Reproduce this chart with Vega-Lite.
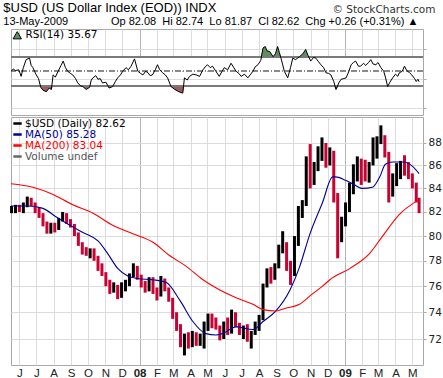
{
"$schema": "https://vega.github.io/schema/vega-lite/v6.json",
"padding": {"left": 3, "top": 1, "right": 3, "bottom": 0},
"background": "white",
"config": {"view": {"stroke": "#a8a8a8"}, "font": "DejaVu Sans"},
"title": {"text": "$USD (US Dollar Index (EOD)) INDX", "subtitle": "13-May-2009\u00a0\u00a0\u00a0\u00a0\u00a0\u00a0\u00a0\u00a0\u00a0\u00a0\u00a0\u00a0\u00a0\u00a0Op 82.08\u00a0 Hi 82.74\u00a0 Lo 81.87\u00a0 Cl 82.62\u00a0 Chg +0.26 (+0.31%) \u25b2", "anchor": "start", "offset": -23, "dx": -5, "font": "Liberation Sans", "fontSize": 13, "fontWeight": "normal", "color": "#000", "subtitleFont": "Liberation Sans", "subtitleFontSize": 11, "subtitleColor": "#000", "subtitlePadding": 1},
"spacing": 0,
"resolve": {"scale": {"color": "independent", "x": "independent", "y": "independent"}, "legend": {"color": "independent"}},
"datasets": {
"rsi": [
{"date":"2007-05-17","rsi":50},{"date":"2007-05-21","rsi":53},{"date":"2007-05-25","rsi":51},{"date":"2007-05-31","rsi":52},{"date":"2007-06-04","rsi":43},{"date":"2007-06-08","rsi":55},{"date":"2007-06-13","rsi":66},{"date":"2007-06-19","rsi":68},{"date":"2007-06-22","rsi":58},{"date":"2007-06-25","rsi":55},{"date":"2007-07-01","rsi":45},{"date":"2007-07-05","rsi":40},{"date":"2007-07-09","rsi":28},{"date":"2007-07-13","rsi":24},{"date":"2007-07-19","rsi":22},{"date":"2007-07-24","rsi":27},{"date":"2007-07-28","rsi":25},{"date":"2007-07-31","rsi":45},{"date":"2007-08-04","rsi":42},{"date":"2007-08-09","rsi":50},{"date":"2007-08-14","rsi":58},{"date":"2007-08-18","rsi":64},{"date":"2007-08-22","rsi":55},{"date":"2007-08-26","rsi":50},{"date":"2007-08-31","rsi":47},{"date":"2007-09-04","rsi":45},{"date":"2007-09-09","rsi":40},{"date":"2007-09-13","rsi":34},{"date":"2007-09-18","rsi":30},{"date":"2007-09-22","rsi":29},{"date":"2007-09-28","rsi":25},{"date":"2007-10-04","rsi":28},{"date":"2007-10-07","rsi":38},{"date":"2007-10-10","rsi":41},{"date":"2007-10-15","rsi":44},{"date":"2007-10-19","rsi":39},{"date":"2007-10-23","rsi":40},{"date":"2007-10-27","rsi":34},{"date":"2007-11-02","rsi":35},{"date":"2007-11-08","rsi":27},{"date":"2007-11-14","rsi":29},{"date":"2007-11-19","rsi":36},{"date":"2007-11-23","rsi":41},{"date":"2007-11-28","rsi":45},{"date":"2007-12-02","rsi":50},{"date":"2007-12-08","rsi":55},{"date":"2007-12-12","rsi":52},{"date":"2007-12-17","rsi":57},{"date":"2007-12-23","rsi":67},{"date":"2007-12-29","rsi":50},
{"date":"2008-01-03","rsi":47},{"date":"2008-01-07","rsi":45},{"date":"2008-01-12","rsi":50},{"date":"2008-01-16","rsi":48},{"date":"2008-01-20","rsi":44},{"date":"2008-01-24","rsi":45},{"date":"2008-01-29","rsi":52},{"date":"2008-02-02","rsi":59},{"date":"2008-02-06","rsi":52},{"date":"2008-02-11","rsi":48},{"date":"2008-02-16","rsi":45},{"date":"2008-02-20","rsi":41},{"date":"2008-02-26","rsi":29},{"date":"2008-03-04","rsi":25},{"date":"2008-03-11","rsi":22},{"date":"2008-03-18","rsi":20},{"date":"2008-03-21","rsi":41},{"date":"2008-03-26","rsi":38},{"date":"2008-03-30","rsi":43},{"date":"2008-04-05","rsi":46},{"date":"2008-04-11","rsi":45},{"date":"2008-04-17","rsi":43},{"date":"2008-04-23","rsi":52},{"date":"2008-04-27","rsi":56},{"date":"2008-05-01","rsi":59},{"date":"2008-05-06","rsi":55},{"date":"2008-05-10","rsi":57},{"date":"2008-05-16","rsi":50},{"date":"2008-05-22","rsi":43},{"date":"2008-05-27","rsi":50},{"date":"2008-05-31","rsi":55},{"date":"2008-06-06","rsi":52},{"date":"2008-06-12","rsi":61},{"date":"2008-06-17","rsi":55},{"date":"2008-06-21","rsi":50},{"date":"2008-06-26","rsi":47},{"date":"2008-06-30","rsi":43},{"date":"2008-07-06","rsi":46},{"date":"2008-07-12","rsi":41},{"date":"2008-07-16","rsi":45},{"date":"2008-07-21","rsi":50},{"date":"2008-07-25","rsi":56},{"date":"2008-07-30","rsi":59},{"date":"2008-08-04","rsi":65},{"date":"2008-08-08","rsi":82},{"date":"2008-08-12","rsi":84},{"date":"2008-08-15","rsi":78},{"date":"2008-08-20","rsi":77},{"date":"2008-08-26","rsi":70},{"date":"2008-08-30","rsi":74},{"date":"2008-09-03","rsi":84},{"date":"2008-09-06","rsi":76},{"date":"2008-09-09","rsi":68},{"date":"2008-09-15","rsi":50},{"date":"2008-09-21","rsi":41},{"date":"2008-09-26","rsi":55},{"date":"2008-09-30","rsi":68},{"date":"2008-10-05","rsi":66},{"date":"2008-10-12","rsi":70},{"date":"2008-10-18","rsi":74},{"date":"2008-10-23","rsi":80},{"date":"2008-10-27","rsi":72},{"date":"2008-11-01","rsi":64},{"date":"2008-11-06","rsi":69},{"date":"2008-11-10","rsi":68},{"date":"2008-11-15","rsi":63},{"date":"2008-11-19","rsi":59},{"date":"2008-11-24","rsi":55},{"date":"2008-11-28","rsi":48},{"date":"2008-12-03","rsi":47},{"date":"2008-12-07","rsi":45},{"date":"2008-12-12","rsi":36},{"date":"2008-12-16","rsi":25},{"date":"2008-12-21","rsi":34},{"date":"2008-12-25","rsi":39},{"date":"2008-12-30","rsi":40},
{"date":"2009-01-03","rsi":41},{"date":"2009-01-08","rsi":50},{"date":"2009-01-12","rsi":59},{"date":"2009-01-16","rsi":62},{"date":"2009-01-20","rsi":64},{"date":"2009-01-25","rsi":57},{"date":"2009-01-29","rsi":57},{"date":"2009-02-03","rsi":61},{"date":"2009-02-07","rsi":58},{"date":"2009-02-12","rsi":62},{"date":"2009-02-16","rsi":66},{"date":"2009-02-20","rsi":60},{"date":"2009-02-25","rsi":59},{"date":"2009-03-01","rsi":62},{"date":"2009-03-06","rsi":55},{"date":"2009-03-11","rsi":50},{"date":"2009-03-14","rsi":42},{"date":"2009-03-18","rsi":29},{"date":"2009-03-22","rsi":35},{"date":"2009-03-27","rsi":41},{"date":"2009-04-01","rsi":46},{"date":"2009-04-05","rsi":43},{"date":"2009-04-08","rsi":48},{"date":"2009-04-13","rsi":50},{"date":"2009-04-17","rsi":57},{"date":"2009-04-21","rsi":51},{"date":"2009-04-26","rsi":48},{"date":"2009-04-30","rsi":45},{"date":"2009-05-05","rsi":40},{"date":"2009-05-08","rsi":36},{"date":"2009-05-11","rsi":39},{"date":"2009-05-13","rsi":35.67}
],
"ohlc": [
{"date":"2007-05-18","open":82.3,"high":82.5,"low":81.9,"close":82.3},
{"date":"2007-05-25","open":82.2,"high":82.6,"low":81.9,"close":82.3},
{"date":"2007-06-01","open":82.3,"high":82.6,"low":82.0,"close":82.2},
{"date":"2007-06-08","open":82.2,"high":82.8,"low":81.9,"close":82.6},
{"date":"2007-06-15","open":82.6,"high":83.3,"low":82.4,"close":83.1},
{"date":"2007-06-22","open":83.1,"high":83.2,"low":82.5,"close":82.6},
{"date":"2007-06-29","open":82.6,"high":82.8,"low":81.9,"close":82.0},
{"date":"2007-07-06","open":82.0,"high":82.4,"low":81.5,"close":81.7},
{"date":"2007-07-13","open":81.7,"high":81.9,"low":80.8,"close":81.0},
{"date":"2007-07-20","open":81.0,"high":81.2,"low":80.2,"close":80.5},
{"date":"2007-07-27","open":80.5,"high":81.1,"low":80.2,"close":80.9},
{"date":"2007-08-03","open":80.9,"high":81.1,"low":80.3,"close":80.6},
{"date":"2007-08-10","open":80.6,"high":81.5,"low":80.5,"close":81.3},
{"date":"2007-08-17","open":81.3,"high":82.0,"low":81.2,"close":81.8},
{"date":"2007-08-24","open":81.8,"high":81.9,"low":81.0,"close":81.2},
{"date":"2007-08-31","open":81.2,"high":81.4,"low":80.7,"close":80.9},
{"date":"2007-09-07","open":80.9,"high":81.0,"low":80.0,"close":80.2},
{"date":"2007-09-14","open":80.2,"high":80.3,"low":79.2,"close":79.4},
{"date":"2007-09-21","open":79.4,"high":79.5,"low":78.5,"close":78.7},
{"date":"2007-09-28","open":78.7,"high":79.1,"low":78.4,"close":78.6},
{"date":"2007-10-05","open":78.5,"high":79.0,"low":78.2,"close":78.7},
{"date":"2007-10-12","open":78.7,"high":79.0,"low":78.0,"close":78.3},
{"date":"2007-10-19","open":78.3,"high":78.4,"low":77.2,"close":77.5},
{"date":"2007-10-26","open":77.5,"high":77.8,"low":76.8,"close":77.0},
{"date":"2007-11-02","open":77.0,"high":77.1,"low":76.0,"close":76.2},
{"date":"2007-11-09","open":76.2,"high":76.5,"low":75.4,"close":75.6},
{"date":"2007-11-16","open":75.6,"high":76.3,"low":75.5,"close":76.0},
{"date":"2007-11-23","open":76.0,"high":76.1,"low":75.0,"close":75.2},
{"date":"2007-11-30","open":75.2,"high":76.3,"low":75.1,"close":76.1},
{"date":"2007-12-07","open":76.1,"high":76.5,"low":75.6,"close":76.2},
{"date":"2007-12-14","open":76.2,"high":77.0,"low":76.0,"close":76.9},
{"date":"2007-12-21","open":76.9,"high":77.8,"low":76.7,"close":77.5},
{"date":"2007-12-28","open":77.5,"high":77.6,"low":76.5,"close":76.7},
{"date":"2008-01-04","open":76.7,"high":76.9,"low":75.9,"close":76.1},
{"date":"2008-01-11","open":76.1,"high":76.4,"low":75.5,"close":75.8},
{"date":"2008-01-18","open":75.8,"high":76.7,"low":75.6,"close":76.4},
{"date":"2008-01-25","open":76.4,"high":76.7,"low":75.4,"close":75.6},
{"date":"2008-02-01","open":75.6,"high":75.9,"low":74.9,"close":75.3},
{"date":"2008-02-08","open":75.3,"high":76.8,"low":75.2,"close":76.4},
{"date":"2008-02-15","open":76.4,"high":76.6,"low":75.6,"close":75.8},
{"date":"2008-02-22","open":75.8,"high":75.9,"low":74.8,"close":75.0},
{"date":"2008-02-29","open":75.0,"high":75.1,"low":73.5,"close":73.7},
{"date":"2008-03-07","open":73.7,"high":74.0,"low":72.6,"close":72.9},
{"date":"2008-03-14","open":72.9,"high":73.1,"low":71.4,"close":71.6},
{"date":"2008-03-21","open":71.6,"high":72.4,"low":70.8,"close":72.1},
{"date":"2008-03-28","open":72.1,"high":72.5,"low":71.3,"close":71.6},
{"date":"2008-04-04","open":71.6,"high":72.6,"low":71.4,"close":72.4},
{"date":"2008-04-11","open":72.4,"high":72.5,"low":71.5,"close":71.7},
{"date":"2008-04-18","open":71.7,"high":72.4,"low":71.5,"close":72.2},
{"date":"2008-04-25","open":72.2,"high":73.3,"low":71.3,"close":73.1},
{"date":"2008-05-02","open":73.1,"high":73.9,"low":72.6,"close":73.7},
{"date":"2008-05-09","open":73.7,"high":73.9,"low":72.8,"close":73.2},
{"date":"2008-05-16","open":73.2,"high":73.6,"low":72.7,"close":72.8},
{"date":"2008-05-23","open":72.8,"high":73.0,"low":71.9,"close":72.2},
{"date":"2008-05-30","open":72.2,"high":73.3,"low":72.0,"close":73.1},
{"date":"2008-06-06","open":73.1,"high":73.6,"low":72.3,"close":72.5},
{"date":"2008-06-13","open":72.5,"high":74.2,"low":72.4,"close":73.9},
{"date":"2008-06-20","open":73.9,"high":74.0,"low":72.9,"close":73.0},
{"date":"2008-06-27","open":73.0,"high":73.2,"low":72.3,"close":72.5},
{"date":"2008-07-04","open":72.5,"high":73.0,"low":72.0,"close":72.6},
{"date":"2008-07-11","open":72.6,"high":73.1,"low":71.8,"close":72.0},
{"date":"2008-07-18","open":72.0,"high":72.6,"low":71.3,"close":72.4},
{"date":"2008-07-25","open":72.4,"high":73.3,"low":72.3,"close":73.1},
{"date":"2008-08-01","open":72.9,"high":73.8,"low":72.6,"close":73.6},
{"date":"2008-08-08","open":73.6,"high":76.2,"low":73.4,"close":76.0},
{"date":"2008-08-15","open":76.0,"high":77.4,"low":75.9,"close":77.2},
{"date":"2008-08-22","open":77.2,"high":77.5,"low":76.2,"close":76.6},
{"date":"2008-08-29","open":76.6,"high":77.8,"low":76.5,"close":77.6},
{"date":"2008-09-05","open":77.6,"high":79.3,"low":77.4,"close":78.9},
{"date":"2008-09-12","open":78.9,"high":80.4,"low":78.6,"close":79.3},
{"date":"2008-09-19","open":79.3,"high":79.5,"low":77.2,"close":77.6},
{"date":"2008-09-26","open":77.6,"high":78.0,"low":76.1,"close":76.9},
{"date":"2008-10-03","open":76.9,"high":80.0,"low":76.8,"close":79.8},
{"date":"2008-10-10","open":79.8,"high":82.5,"low":79.2,"close":82.1},
{"date":"2008-10-17","open":82.1,"high":83.0,"low":81.5,"close":82.7},
{"date":"2008-10-24","open":82.7,"high":86.8,"low":82.5,"close":86.3},
{"date":"2008-10-31","open":86.3,"high":87.9,"low":84.0,"close":84.6},
{"date":"2008-11-07","open":84.6,"high":86.3,"low":84.3,"close":85.9},
{"date":"2008-11-14","open":85.9,"high":87.7,"low":85.5,"close":87.0},
{"date":"2008-11-21","open":87.0,"high":88.5,"low":86.4,"close":87.9},
{"date":"2008-11-28","open":87.9,"high":88.0,"low":85.8,"close":86.5},
{"date":"2008-12-05","open":86.5,"high":87.6,"low":86.0,"close":87.2},
{"date":"2008-12-12","open":87.2,"high":87.3,"low":82.8,"close":83.3},
{"date":"2008-12-19","open":83.3,"high":83.6,"low":78.2,"close":80.2},
{"date":"2008-12-26","open":80.2,"high":81.6,"low":79.5,"close":81.0},
{"date":"2009-01-02","open":81.0,"high":82.8,"low":80.8,"close":82.5},
{"date":"2009-01-09","open":82.5,"high":84.5,"low":82.0,"close":83.9},
{"date":"2009-01-16","open":83.9,"high":86.1,"low":83.5,"close":85.3},
{"date":"2009-01-23","open":85.3,"high":86.8,"low":84.6,"close":86.0},
{"date":"2009-01-30","open":86.0,"high":86.6,"low":84.3,"close":85.9},
{"date":"2009-02-06","open":85.9,"high":86.5,"low":84.6,"close":85.0},
{"date":"2009-02-13","open":85.0,"high":86.3,"low":84.5,"close":86.1},
{"date":"2009-02-20","open":86.1,"high":88.5,"low":86.0,"close":87.9},
{"date":"2009-02-27","open":87.9,"high":88.6,"low":86.6,"close":88.2},
{"date":"2009-03-06","open":88.2,"high":89.6,"low":87.9,"close":88.6},
{"date":"2009-03-13","open":88.6,"high":88.7,"low":86.7,"close":87.0},
{"date":"2009-03-20","open":87.0,"high":87.2,"low":82.8,"close":83.8},
{"date":"2009-03-27","open":83.8,"high":85.3,"low":83.3,"close":84.7},
{"date":"2009-04-03","open":84.7,"high":86.2,"low":84.2,"close":85.1},
{"date":"2009-04-10","open":85.1,"high":86.4,"low":84.8,"close":85.8},
{"date":"2009-04-17","open":85.8,"high":86.9,"low":85.1,"close":85.6},
{"date":"2009-04-24","open":85.6,"high":86.3,"low":84.8,"close":85.0},
{"date":"2009-05-01","open":85.0,"high":85.3,"low":84.0,"close":84.3},
{"date":"2009-05-08","open":84.3,"high":84.5,"low":82.8,"close":83.1},
{"date":"2009-05-13","open":83.1,"high":83.2,"low":81.9,"close":82.6}
],
"ma50": [
{"date":"2007-05-17","value":82.5},{"date":"2007-06-16","value":82.5},{"date":"2007-07-13","value":82.3},{"date":"2007-08-05","value":81.6},{"date":"2007-08-26","value":81.0},{"date":"2007-09-22","value":80.3},{"date":"2007-10-19","value":79.6},{"date":"2007-11-05","value":78.6},{"date":"2007-11-23","value":77.4},{"date":"2007-12-11","value":76.8},{"date":"2007-12-29","value":76.6},{"date":"2008-01-25","value":76.5},{"date":"2008-02-17","value":76.3},{"date":"2008-03-13","value":74.9},{"date":"2008-04-05","value":73.3},{"date":"2008-04-28","value":72.4},{"date":"2008-05-16","value":72.3},{"date":"2008-05-28","value":72.4},{"date":"2008-06-21","value":72.9},{"date":"2008-07-21","value":72.7},{"date":"2008-08-08","value":73.3},{"date":"2008-08-31","value":74.1},{"date":"2008-09-25","value":75.7},{"date":"2008-10-12","value":77.5},{"date":"2008-10-30","value":80.1},{"date":"2008-11-22","value":82.8},{"date":"2008-12-10","value":85.0},{"date":"2008-12-15","value":85.0},{"date":"2009-01-02","value":84.7},{"date":"2009-01-15","value":84.4},{"date":"2009-02-01","value":84.0},{"date":"2009-02-19","value":84.1},{"date":"2009-03-04","value":85.0},{"date":"2009-03-14","value":86.1},{"date":"2009-03-27","value":86.3},{"date":"2009-04-14","value":86.3},{"date":"2009-05-02","value":85.9},{"date":"2009-05-13","value":85.28}
],
"ma200": [
{"date":"2007-05-17","value":84.4},{"date":"2007-06-25","value":84.1},{"date":"2007-07-30","value":83.5},{"date":"2007-09-04","value":82.6},{"date":"2007-10-10","value":81.9},{"date":"2007-11-14","value":80.9},{"date":"2007-12-20","value":80.2},{"date":"2008-01-25","value":79.5},{"date":"2008-02-24","value":78.4},{"date":"2008-03-23","value":77.6},{"date":"2008-04-23","value":76.5},{"date":"2008-05-23","value":75.7},{"date":"2008-06-21","value":75.1},{"date":"2008-07-21","value":74.6},{"date":"2008-08-08","value":74.2},{"date":"2008-08-31","value":74.1},{"date":"2008-09-17","value":74.3},{"date":"2008-10-12","value":74.6},{"date":"2008-11-04","value":75.4},{"date":"2008-11-22","value":76.0},{"date":"2008-12-05","value":76.5},{"date":"2009-01-10","value":77.4},{"date":"2009-02-14","value":78.6},{"date":"2009-03-09","value":80.0},{"date":"2009-04-08","value":81.8},{"date":"2009-05-13","value":83.04}
]
},
"vconcat": [
{
"width": 412, "height": 86,
"data": {"name": "rsi"},
"resolve": {"scale": {"y": "independent"}},
"layer": [
{"mark": {"type": "area", "color": "#5f8f5f", "opacity": 1},
 "encoding": {
  "x": {"field": "date", "type": "temporal", "scale": {"type": "utc", "domain": [{"year": 2007, "month": 5, "date": 17, "utc": true}, {"year": 2009, "month": 5, "date": 20, "utc": true}]}, "axis": {"orient": "top", "labels": false, "ticks": false, "domain": false, "grid": true, "tickCount": {"interval": "month", "step": 1}, "gridColor": {"condition": {"test": "utcmonth(datum.value) == 0", "value": "#b4b4b4"}, "value": "#dcdcdc"}, "title": "\u00a9 StockCharts.com", "titleX": 424, "titleY": -17, "titleAlign": "right", "titleBaseline": "alphabetic", "titleFont": "DejaVu Sans", "titleFontSize": 10.5, "titleFontWeight": "normal", "titleColor": "#333"}},
  "y": {"field": "rsi", "type": "quantitative", "scale": {"domain": [70, 108], "range": [27.69, 0], "clamp": true, "nice": false, "zero": false}, "axis": null},
  "y2": {"datum": 70}
 }},
{"mark": {"type": "area", "color": "#a35a5a", "opacity": 1},
 "encoding": {
  "x": {"field": "date", "type": "temporal"},
  "y": {"field": "rsi", "type": "quantitative", "scale": {"domain": [-10, 30], "range": [86, 56.85], "clamp": true, "nice": false, "zero": false}, "axis": null},
  "y2": {"datum": 30}
 }},
{"layer": [
  {"mark": {"type": "rule", "color": "#7a7a7a", "strokeWidth": 1}, "encoding": {"y": {"datum": 70}}},
  {"mark": {"type": "rule", "color": "#7a7a7a", "strokeWidth": 1}, "encoding": {"y": {"datum": 30}}},
  {"mark": {"type": "rule", "color": "#8a8a8a", "strokeWidth": 1, "strokeDash": [6, 2, 1, 2]}, "encoding": {"y": {"datum": 50}}},
  {"mark": {"type": "line", "strokeWidth": 1, "interpolate": "linear"},
   "encoding": {
    "x": {"field": "date", "type": "temporal"},
    "y": {"field": "rsi", "type": "quantitative", "scale": {"domain": [-10, 108], "nice": false, "zero": false}, "axis": {"orient": "right", "values": [0,10,20,30,40,50,60,70,80,90,100], "labelExpr": "datum.value % 20 == 10 ? datum.label : ''", "grid": true, "gridColor": "#dcdcdc", "domain": false, "ticks": true, "tickSize": 3, "tickColor": "#aaa", "labelFontSize": 10.5, "labelColor": "#222", "labelPadding": 2, "title": null}},
    "color": {"datum": "RSI(14) 35.67", "scale": {"range": ["#000000"]}, "legend": {"orient": "top-left", "offset": 1, "padding": 0, "title": null, "labelFontSize": 10.5, "labelColor": "#000", "labelOffset": 3, "symbolSize": 70, "encode": {"symbols": {"update": {"shape": {"value": "triangle-up"}, "fill": {"value": "#5f8f5f"}, "stroke": {"value": "#333"}, "strokeWidth": {"value": 1}}}}}}
   }}
 ]}
]
},
{
"width": 412, "height": 248,
"layer": [
{"data": {"name": "ohlc"},
 "mark": {"type": "rule", "strokeWidth": 3},
 "encoding": {
  "x": {"field": "date", "type": "temporal", "scale": {"type": "utc", "domain": [{"year": 2007, "month": 5, "date": 17, "utc": true}, {"year": 2009, "month": 5, "date": 20, "utc": true}]}, "axis": {"orient": "bottom", "grid": true, "tickCount": {"interval": "month", "step": 1}, "gridColor": {"condition": {"test": "utcmonth(datum.value) == 0", "value": "#b4b4b4"}, "value": "#dcdcdc"}, "labelExpr": "utcmonth(datum.value) == 0 ? utcFormat(datum.value, '%y') : slice(utcFormat(datum.value, '%b'), 0, 1)", "labelFontWeight": {"condition": {"test": "utcmonth(datum.value) == 0", "value": "bold"}, "value": "normal"}, "labelFlush": false, "labelOverlap": false, "labelFont": "Liberation Sans", "labelFontSize": 11.5, "labelColor": "#222", "labelPadding": 2, "ticks": false, "domain": false, "title": null}},
  "y": {"field": "low", "type": "quantitative", "scale": {"type": "log", "domain": [70.11, 90.37], "nice": false, "zero": false}, "axis": {"orient": "right", "values": [72,74,76,78,80,82,84,86,88], "grid": true, "gridColor": "#dcdcdc", "domain": false, "ticks": true, "tickSize": 3, "tickColor": "#aaa", "labelFontSize": 10.5, "labelColor": "#222", "labelPadding": 2, "title": null}},
  "y2": {"field": "high"},
  "color": {"condition": {"test": "datum.close >= datum.open", "value": "#000000"}, "value": "#cc0033"}
 }},
{"data": {"name": "ma50"},
 "mark": {"type": "line", "strokeWidth": 1.1, "interpolate": "monotone"},
 "encoding": {
  "x": {"field": "date", "type": "temporal"},
  "y": {"field": "value", "type": "quantitative"},
  "color": {"datum": "MA(50) 85.28", "scale": {"domain": ["$USD (Daily) 82.62", "MA(50) 85.28", "MA(200) 83.04", "Volume undef"], "range": ["#000000", "#000099", "#ff0000", "#666666"]}, "legend": {"orient": "top-left", "offset": 1, "padding": 0, "title": null, "labelFontSize": 10.5, "labelOffset": 2, "rowPadding": 0, "symbolType": "stroke", "symbolStrokeWidth": 2.5, "symbolSize": 70, "encode": {"labels": {"update": {"fill": {"signal": "datum.value === 'MA(50) 85.28' ? '#000099' : datum.value === 'MA(200) 83.04' ? '#ff0000' : datum.value === 'Volume undef' ? '#555555' : '#000000'"}}}}}}
 }},
{"data": {"name": "ma200"},
 "mark": {"type": "line", "strokeWidth": 1.1, "interpolate": "monotone"},
 "encoding": {
  "x": {"field": "date", "type": "temporal"},
  "y": {"field": "value", "type": "quantitative"},
  "color": {"datum": "MA(200) 83.04"}
 }}
]
}
]
}
